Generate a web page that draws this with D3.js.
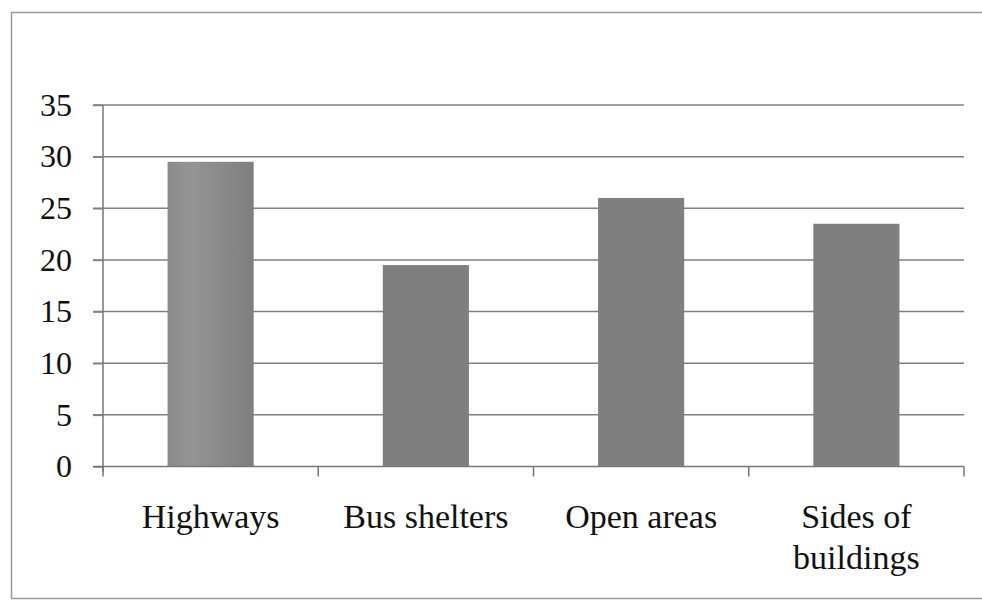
<!DOCTYPE html>
<html>
<head>
<meta charset="utf-8">
<script src="https://cdn.jsdelivr.net/npm/d3@7"></script>
<style>
  html, body { margin: 0; padding: 0; background: #fff; }
  svg { display: block; }
</style>
</head>
<body>
<svg id="chart" width="982" height="603"></svg>
<script>
const categories = ["Highways", "Bus shelters", "Open areas", "Sides of buildings"];
const categoryLines = [["Highways"], ["Bus shelters"], ["Open areas"], ["Sides of", "buildings"]];
const values = [29.5, 19.5, 26, 23.5];
const yTicks = [0, 5, 10, 15, 20, 25, 30, 35];

const svg = d3.select("#chart");
const font = "'Liberation Serif', 'Times New Roman', serif";

// outer frame (left, top, bottom)
svg.append("path")
  .attr("d", "M982,12.5 H11.5 V598.5 H982")
  .attr("fill", "none").attr("stroke", "#9a9a9a").attr("stroke-width", 1.5);

const x = d3.scaleBand().domain(categories).range([103, 964]).paddingInner(0.6).paddingOuter(0.3);
const y = d3.scaleLinear().domain([0, 35]).range([466.5, 105]);

// gridlines
svg.append("g").selectAll("line").data(yTicks.filter(d => d > 0)).join("line")
  .attr("x1", 93).attr("x2", 964)
  .attr("y1", d => y(d)).attr("y2", d => y(d))
  .attr("stroke", "#808080").attr("stroke-width", 1.5);

// gradient for first bar
const defs = svg.append("defs");
const g = defs.append("linearGradient").attr("id", "hw").attr("x1", 0).attr("x2", 1).attr("y1", 0).attr("y2", 0);
g.append("stop").attr("offset", "0%").attr("stop-color", "#8a8a8a");
g.append("stop").attr("offset", "25%").attr("stop-color", "#959595");
g.append("stop").attr("offset", "100%").attr("stop-color", "#7e7e7e");

// bars
svg.append("g").selectAll("rect").data(values).join("rect")
  .attr("x", (d, i) => x(categories[i]))
  .attr("width", x.bandwidth())
  .attr("y", d => y(d))
  .attr("height", d => y(0) - y(d))
  .attr("fill", (d, i) => i === 0 ? "url(#hw)" : "#7f7f7f");

// y axis
const yAxis = d3.axisLeft(y).tickValues(yTicks).tickSize(10).tickPadding(20);
const ya = svg.append("g").attr("transform", "translate(103,0)").call(yAxis);
ya.select(".domain").attr("stroke", "#777").attr("stroke-width", 1.5).attr("d", "M0,105V472");
ya.selectAll(".tick line").attr("stroke", "#808080").attr("stroke-width", 1.5);
ya.selectAll(".tick text").attr("font-family", font).attr("font-size", 32).attr("fill", "#111")
  .attr("x", -31);

// x axis
const xa = svg.append("g").attr("transform", "translate(0,466.5)");
xa.append("line").attr("x1", 93).attr("x2", 964).attr("y1", 0).attr("y2", 0)
  .attr("stroke", "#777").attr("stroke-width", 1.5);
const bounds = categories.map(c => x(c) - x.step() * x.paddingInner() / 2);
bounds[0] = 103;
bounds.push(964);
xa.selectAll("line.tk").data(bounds).join("line").attr("class", "tk")
  .attr("x1", d => d).attr("x2", d => d).attr("y1", 0).attr("y2", 10)
  .attr("stroke", "#777").attr("stroke-width", 1.5);

// category labels
const lbl = svg.append("g").selectAll("text").data(categories).join("text")
  .attr("text-anchor", "middle")
  .attr("font-family", font).attr("font-size", 34).attr("fill", "#111")
  .attr("transform", d => `translate(${x(d) + x.bandwidth() / 2},528)`);
lbl.each(function(d, i) {
  d3.select(this).selectAll("tspan").data(categoryLines[i]).join("tspan")
    .attr("x", 0).attr("dy", (t, j) => j === 0 ? 0 : 41).text(t => t);
});
</script>
</body>
</html>
